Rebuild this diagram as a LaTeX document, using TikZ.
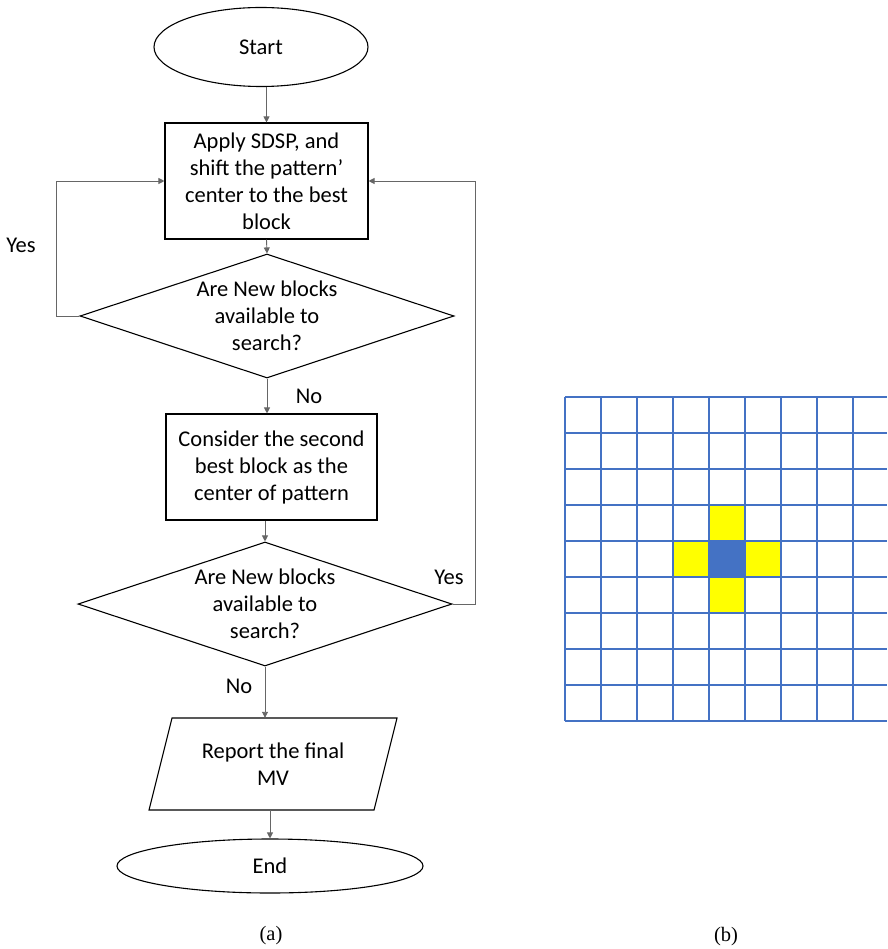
\documentclass[tikz,border=0pt]{standalone}
\usepackage{fontspec}
\setmainfont{Carlito}
\newfontfamily\capfont{Liberation Serif}
\usetikzlibrary{shapes.geometric,arrows.meta}
\definecolor{gridblue}{HTML}{4472C4}
\definecolor{hiyellow}{HTML}{FFFF00}
\begin{document}
\begin{tikzpicture}[x=1pt,y=-1pt,
  every node/.style={font=\fontsize{22.5}{27}\selectfont},
  outline/.style={draw=black, line width=1.1pt},
  terminal/.style={outline, ellipse, inner sep=0pt},
  process/.style={outline, rectangle, align=center, inner sep=0pt},
  decision/.style={outline, diamond, inner sep=0pt},
  iotext/.style={rectangle, align=center, inner sep=0pt},
  flow/.style={draw=black!60, line width=0.9pt, -{Triangle[length=6pt,width=6pt]}},
  tag/.style={inner sep=0pt},
  caption/.style={font=\capfont\fontsize{20.5}{24}\selectfont, inner sep=0pt},
  cellline/.style={draw=gridblue, line width=2pt}
]
\useasboundingbox (0,0) rectangle (887,949);

% ---- flowchart (a) ----
\node[terminal, minimum width=214pt, minimum height=79pt] (start) at (261,47) {Start};
\node[process, minimum width=203pt, minimum height=116pt] (apply) at (266.5,181)
  {Apply SDSP, and\\shift the pattern’\\center to the best\\block};
\node[decision, minimum width=374pt, minimum height=124pt,
  label={[align=center]center:Are New blocks\\available to\\search?}] (dec1) at (267,316) {};
\node[process, minimum width=211pt, minimum height=106pt] (second) at (271.5,467)
  {Consider the second\\best block as the\\center of pattern};
\node[decision, minimum width=374pt, minimum height=124pt,
  label={[align=center]center:Are New blocks\\available to\\search?}] (dec2) at (265,604) {};
% input/output step: slanted box drawn around its text node
\node[iotext, minimum width=225pt, minimum height=92pt] (report) at (273,764)
  {Report the final\\MV};
\draw[outline] (172,718) -- (397,718) -- (374,810) -- (149,810) -- cycle;
\node[terminal, minimum width=306pt, minimum height=54pt] (end) at (270,866) {End};

\draw[flow] (start.south -| apply.north) -- (apply.north);
\draw[flow] (apply.south) -- (dec1.north);
\draw[flow] (dec1.south) -- (dec1.south |- second.north);
\draw[flow] (second.south -| dec2.north) -- (dec2.north);
\draw[flow] (dec2.south) -- (dec2.south |- report.north);
\draw[flow] (report.south -| end.north) -- (end.north);
\draw[flow] (dec1.west) -- ++(-23,0) |- (apply.west);
\draw[flow] (dec2.east) -- ++(23,0) |- (apply.east);

\node[tag] (yes1) at (21,245) {Yes};
\node[tag] (no1) at (309,396) {No};
\node[tag] (yes2) at (449,577) {Yes};
\node[tag] (no2) at (239,686) {No};

\node[caption] (capa) at (271,936) {(a)};

% ---- search pattern on the block grid (b) ----
\fill[hiyellow] (709,505) rectangle (745,541);
\fill[hiyellow] (709,577) rectangle (745,613);
\fill[hiyellow] (673,541) rectangle (709,577);
\fill[hiyellow] (745,541) rectangle (781,577);
\fill[gridblue] (709,541) rectangle (745,577);
\foreach \i in {0,...,9}
  \draw[cellline] (565,{397+36*\i}) -- (887,{397+36*\i});
\foreach \k in {0,...,8}
  \draw[cellline] ({565+36*\k},397) -- ({565+36*\k},721);

\node[caption] (capb) at (726,937) {(b)};
\end{tikzpicture}
\end{document}
